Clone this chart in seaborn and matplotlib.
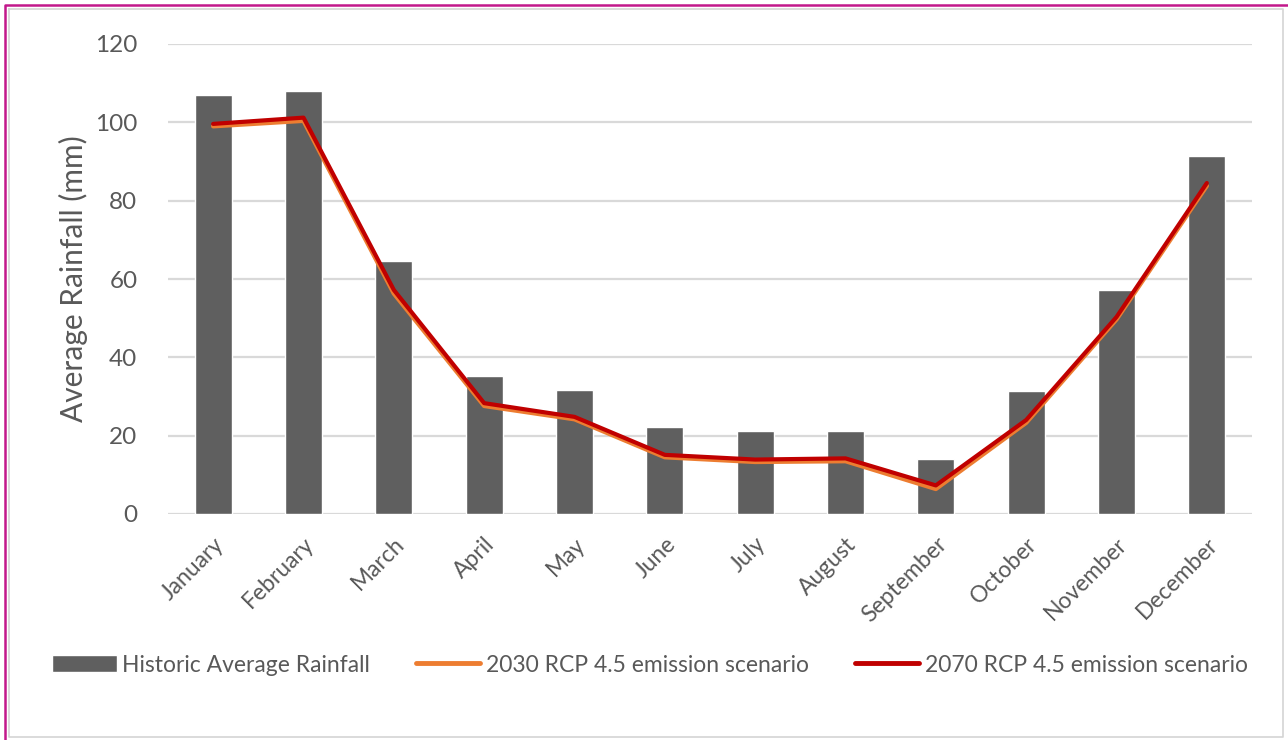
import numpy as np
import pandas as pd
import seaborn as sns
import matplotlib.pyplot as plt
from matplotlib.patches import Patch
from matplotlib.lines import Line2D

months = ['January', 'February', 'March', 'April', 'May', 'June', 'July',
          'August', 'September', 'October', 'November', 'December']
historic = [107, 108, 64.5, 35.3, 31.7, 22.2, 21.2, 21.2, 14.1, 31.3, 57.3, 91.3]
rcp_2030 = [99.0, 100.4, 56.3, 27.6, 24.2, 14.5, 13.3, 13.5, 6.4, 23.3, 49.7, 83.8]
rcp_2070 = [99.6, 101.2, 57.2, 28.3, 24.8, 15.1, 13.9, 14.2, 7.3, 24.0, 50.3, 84.5]

labels = ['Historic Average Rainfall', '2030 RCP 4.5 emission scenario',
          '2070 RCP 4.5 emission scenario']

sns.set_style('white')
plt.rcParams['font.family'] = ['Lato', 'DejaVu Sans']

df = pd.DataFrame({'month': months, 'historic': historic,
                   'rcp2030': rcp_2030, 'rcp2070': rcp_2070})
df['pos'] = np.arange(len(df))

W, H = 1288, 740
fig = plt.figure(figsize=(W / 100, H / 100), dpi=100)
ax = fig.add_axes([168 / W, 1 - 514 / H, (1252 - 168) / W, (514 - 44) / H])

bar_col = '#5f5f5f'
sns.barplot(data=df, x='month', y='historic', color=bar_col, width=0.41,
            saturation=1, ax=ax, zorder=2)
sns.lineplot(data=df, x='pos', y='rcp2030', color='#ED7D31', linewidth=3.2,
             ax=ax, zorder=3)
sns.lineplot(data=df, x='pos', y='rcp2070', color='#C00000', linewidth=3.0,
             ax=ax, zorder=4)

ax.set_ylim(0, 120)
ax.set_xlim(-0.5, len(months) - 0.5)
ax.set_yticks(range(0, 121, 20))
ax.yaxis.grid(True, color='#d9d9d9', linewidth=1.6, zorder=0)
ax.set_axisbelow(True)
for s in ax.spines.values():
    s.set_visible(False)
ax.tick_params(length=0)
ax.tick_params(axis='y', labelsize=17.5, labelcolor='#595959', pad=22)
ax.tick_params(axis='x', labelsize=16.5, labelcolor='#595959', pad=14)
plt.setp(ax.get_xticklabels(), rotation=45, ha='right', rotation_mode='anchor')
ax.set_xlabel('')
ax.set_ylabel('Average Rainfall (mm)', fontsize=21.5, color='#595959', labelpad=5)

handles = [Patch(facecolor=bar_col),
           Line2D([0], [0], color='#ED7D31', linewidth=3.5),
           Line2D([0], [0], color='#C00000', linewidth=3.5)]
fig.legend(handles, labels, loc='center', bbox_to_anchor=(650 / W, 1 - 665 / H),
           ncol=3, frameon=False, fontsize=16.5, labelcolor='#595959',
           handlelength=2.8, columnspacing=2.0, handletextpad=0.25)

# frame: magenta top/left, light grey right/bottom
frame = fig.add_axes([0, 0, 1, 1], zorder=-1)
frame.set_xlim(0, W)
frame.set_ylim(H, 0)
frame.axis('off')
frame.plot([9, 9, 1283, 1283, 9], [9, 737, 737, 9, 9], color='#d4d4d4', linewidth=1.2)
frame.plot([5, 5, 1288], [740, 5, 5], color='#c2188b', linewidth=1.8)

fig.savefig('out.png', dpi=100)
